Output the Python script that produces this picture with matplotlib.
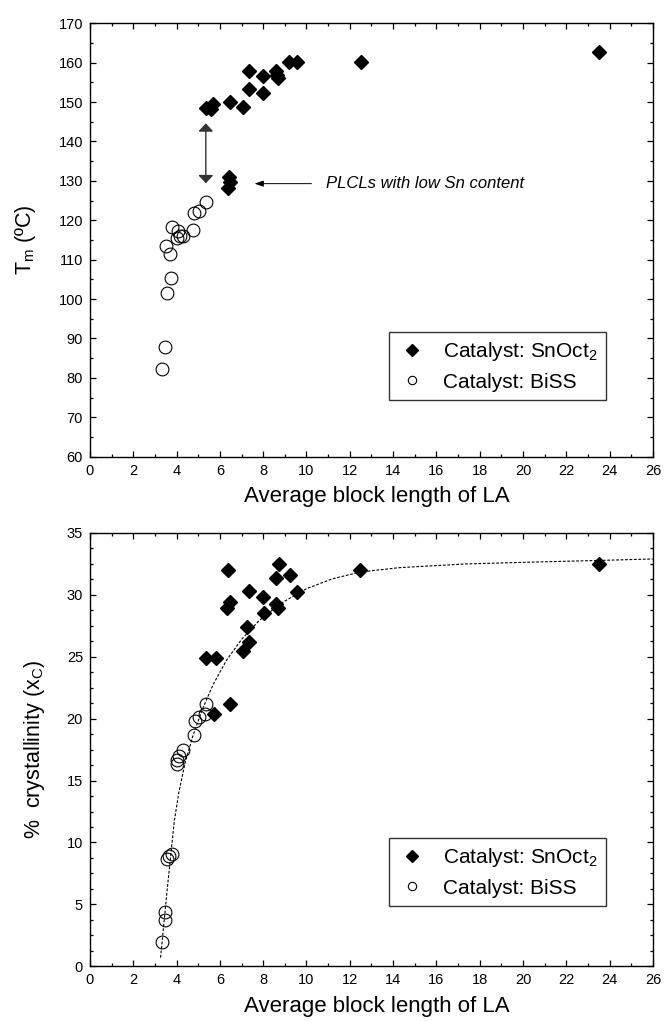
import matplotlib
matplotlib.use('Agg')
import matplotlib.pyplot as plt
import matplotlib.ticker as ticker
from matplotlib.lines import Line2D

plt.rcParams['font.family'] = ['Liberation Sans', 'DejaVu Sans']
plt.rcParams['mathtext.fontset'] = 'custom'
plt.rcParams['mathtext.rm'] = 'Liberation Sans'
plt.rcParams['mathtext.it'] = 'Liberation Sans:italic'

# top panel: melting temperature
tm_sn_x = [5.38, 5.6, 5.69, 6.49, 7.07, 7.34, 7.34, 7.97, 8.0, 8.58, 8.69, 8.65,
           9.2, 9.54, 12.5, 23.5, 6.4, 6.45, 6.36]
tm_sn_y = [148.6, 148.3, 149.5, 150.0, 148.8, 157.9, 153.2, 156.6, 152.4, 157.9,
           156.2, 156.8, 160.2, 160.2, 160.1, 162.8, 131.0, 129.7, 128.2]
tm_bi_x = [5.35, 5.03, 4.81, 3.81, 4.05, 4.0, 4.15, 4.31, 4.77, 3.49, 3.69, 3.72,
           3.58, 3.48, 3.34]
tm_bi_y = [124.6, 122.3, 121.8, 118.2, 117.4, 115.5, 115.9, 116.1, 117.6, 113.4,
           111.4, 105.3, 101.6, 87.8, 82.2]

# bottom panel: crystallinity
xc_sn_x = [6.38, 6.46, 6.34, 7.34, 7.97, 8.03, 8.74, 8.58, 9.23, 9.54, 8.58, 8.69,
           7.27, 7.35, 7.07, 5.36, 5.83, 12.48, 23.5, 5.72, 6.49]
xc_sn_y = [32.0, 29.4, 28.9, 30.3, 29.8, 28.5, 32.5, 31.4, 31.6, 30.2, 29.3, 28.9,
           27.4, 26.2, 25.5, 24.9, 24.9, 32.0, 32.5, 20.4, 21.2]
xc_bi_x = [5.38, 5.31, 5.03, 4.85, 4.8, 4.31, 4.12, 4.0, 4.0, 3.81, 3.66, 3.58,
           3.48, 3.46, 3.34]
xc_bi_y = [21.2, 20.4, 20.1, 19.8, 18.7, 17.5, 17.0, 16.7, 16.3, 9.1, 8.9, 8.7,
           4.35, 3.7, 2.0]

# dashed guide curve
fit_x = [3.26, 3.4, 3.55, 3.72, 3.9, 4.1, 4.4, 4.77, 5.2, 5.7, 6.3, 7.0, 7.8,
         8.8, 10.0, 11.2, 12.5, 14.3, 17.4, 20.5, 23.5, 26.0]
fit_y = [0.7, 3.2, 5.9, 8.8, 11.8, 14.0, 16.5, 18.7, 20.8, 22.8, 24.7, 26.4, 27.9,
         29.3, 30.5, 31.3, 31.85, 32.2, 32.5, 32.65, 32.78, 32.9]

fig = plt.figure(figsize=(6.67, 10.21), dpi=100)
ax1 = fig.add_axes([0.1349, 0.5527, 0.844, 0.4245])
ax2 = fig.add_axes([0.1349, 0.0536, 0.844, 0.4244])

dia = dict(marker='D', ms=7.6, color='black', ls='none', zorder=3)
circ = dict(marker='o', ms=9.2, mfc='none', mec='black', mew=0.8, ls='none', zorder=3)

ax1.plot(tm_sn_x, tm_sn_y, **dia)
ax1.plot(tm_bi_x, tm_bi_y, **circ)

ax2.plot(fit_x, fit_y, color='black', lw=0.8, dashes=(2.5, 1.5), zorder=2)
ax2.plot(xc_sn_x, xc_sn_y, **dia)
ax2.plot(xc_bi_x, xc_bi_y, **circ)

# annotations on the top panel
ax1.annotate('', xy=(5.35, 144.6), xytext=(5.35, 129.4),
             arrowprops=dict(arrowstyle='<|-|>,head_length=0.32,head_width=0.3',
                             mutation_scale=15, color='#333333', lw=1,
                             shrinkA=0, shrinkB=0))
ax1.annotate('', xy=(7.6, 129.3), xytext=(10.23, 129.3),
             arrowprops=dict(arrowstyle='-|>,head_length=0.35,head_width=0.12',
                             mutation_scale=15, color='black', lw=0.7,
                             shrinkA=0, shrinkB=0))
ax1.text(10.9, 129.3, 'PLCLs with low Sn content', fontsize=12, style='italic',
         va='center', ha='left')

handles = [Line2D([], [], marker='D', ms=6.0, color='black', ls='none'),
           Line2D([], [], marker='o', ms=6.0, mfc='none', mec='black', mew=0.8, ls='none')]
labels = ['Catalyst: SnOct$_\\mathregular{2}$', 'Catalyst: BiSS']

for ax, ymin, ymax, ystep, yminor, leg_y in [(ax1, 60, 170, 10, 2, 0.131),
                                             (ax2, 0, 35, 5, 4, 0.139)]:
    ax.set_xlim(0, 26)
    ax.set_ylim(ymin, ymax)
    ax.xaxis.set_major_locator(ticker.MultipleLocator(2))
    ax.xaxis.set_minor_locator(ticker.AutoMinorLocator(2))
    ax.yaxis.set_major_locator(ticker.MultipleLocator(ystep))
    ax.yaxis.set_minor_locator(ticker.AutoMinorLocator(yminor))
    ax.tick_params(which='both', direction='in', top=True, right=True, labelsize=10.5)
    ax.tick_params(which='major', length=4, width=0.9, pad=5)
    ax.tick_params(which='minor', length=2.2, width=0.9)
    for sp in ax.spines.values():
        sp.set_linewidth(1.0)
    ax.set_xlabel('Average block length of LA', fontsize=16)
    ax.xaxis.set_label_coords(0.51, -0.068)
    leg = ax.legend(handles, labels, loc='lower right', bbox_to_anchor=(0.9165, leg_y),
                    borderaxespad=0, fontsize=15, frameon=True, fancybox=False,
                    edgecolor='black', handlelength=1.4, handletextpad=0.8,
                    labelspacing=0.45, borderpad=0.4)
    leg.get_frame().set_linewidth(1.0)

ax1.set_ylabel('T$_\\mathregular{m}$ (ºC)', fontsize=15.5)
ax1.yaxis.set_label_coords(-0.092, 0.5)
ax2.set_ylabel('%  crystallinity (x$_\\mathregular{C}$)', fontsize=15.5)
ax2.yaxis.set_label_coords(-0.076, 0.5)

fig.savefig('out.png', dpi=100)
